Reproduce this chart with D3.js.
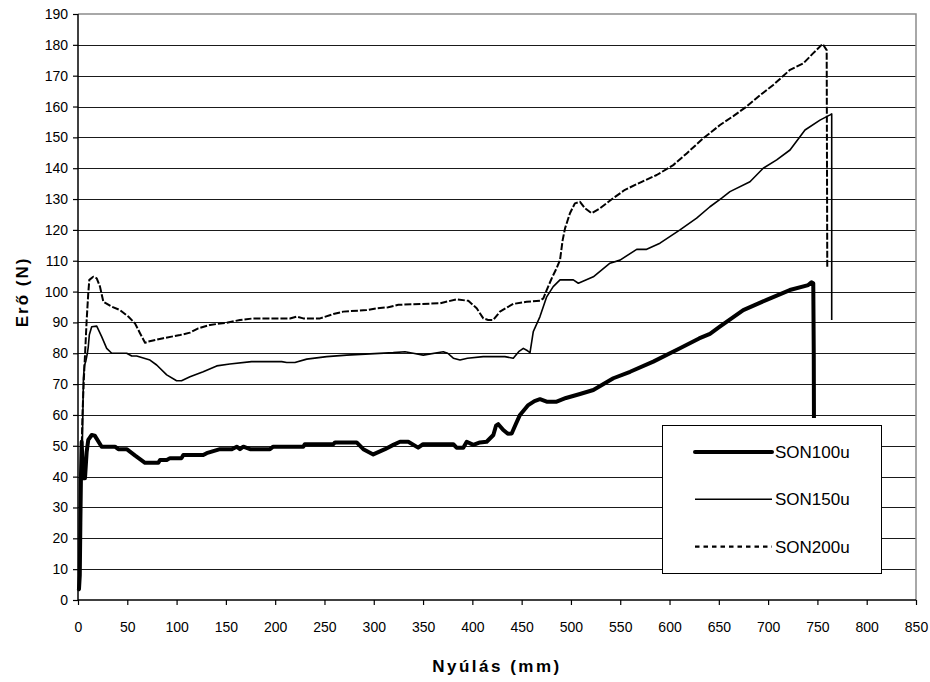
<!DOCTYPE html>
<html>
<head>
<meta charset="utf-8">
<script src="https://cdn.jsdelivr.net/npm/d3@7"></script>
<style>
  body { margin: 0; background: #fff; }
  svg text { font-family: "Liberation Sans", Arial, sans-serif; fill: #000; }
</style>
</head>
<body>
<svg id="chart" width="930" height="682"></svg>
<script>
// values: [elongation mm, force N]
const son100u = [[0.3,3.8],[1,3.5],[1.8,8],[2.4,25],[3,40],[3.7,51.3],[4.5,45],[5.5,39.5],[7.1,39.5],[8.8,48.1],[10.4,51.9],[13.9,53.5],[17,53.3],[24,49.7],[37.5,49.7],[40.9,48.9],[49.4,48.9],[58,46.8],[68,44.5],[81.5,44.5],[83.2,45.4],[90,45.4],[93.3,46],[105,46],[106.8,47],[127,47],[130.5,47.6],[144,48.9],[156,48.9],[161,49.7],[164.3,48.9],[167.7,49.7],[174.5,48.9],[194.7,48.9],[198,49.7],[228.5,49.7],[230,50.5],[259,50.5],[260.7,51.1],[282.6,51.1],[289.4,48.9],[299.5,47.2],[311.4,48.9],[319.8,50.3],[326.6,51.3],[335,51.3],[345,49.4],[350,50.5],[380.7,50.5],[384,49.4],[390.8,49.4],[394.3,51.3],[401,50.3],[407.7,51.1],[414.5,51.3],[421.3,53.5],[424,56.5],[426.3,57],[431.4,55.1],[436,53.9],[439.9,54],[444,57],[448.3,60],[456.7,63.2],[463,64.5],[468.6,65.1],[475.4,64.3],[485.5,64.3],[495,65.5],[509.2,66.8],[522.7,68.1],[543,71.9],[560,74],[583.5,77.3],[610.6,81.6],[630,84.8],[641,86.3],[651,88.6],[674.8,94],[698.5,97.3],[722,100.5],[740.7,102.1],[744,103],[745.8,102.7],[746.3,80],[746.5,59]];

const son150u = [[2.5,30],[3.5,45],[4.5,52],[5,62],[5.5,72],[6.5,76],[8,77.5],[9.5,80],[10.4,82],[11.5,86],[13.9,88.6],[19,88.8],[24,85.4],[29.1,81.6],[34.2,80],[49.4,80],[54.5,79.1],[59.5,79.1],[73,77.8],[79.8,76.2],[90,73],[100,71.1],[105,71.1],[113.6,72.4],[127,74],[140.7,75.9],[154,76.5],[176,77.3],[206.6,77.3],[211.7,77],[220,77],[232,78.1],[252.3,78.9],[272.5,79.4],[319.8,80.2],[331.7,80.5],[340,80],[350.2,79.4],[370.5,80.5],[375,80],[380.7,78.4],[387.5,77.8],[395,78.4],[411,78.9],[433,78.9],[441.5,78.4],[447,80.5],[451.7,81.6],[456,80.8],[458.5,80.2],[461.8,87],[468.6,91.9],[475.4,98.3],[482,101.6],[488.9,103.8],[502.4,103.8],[507.5,102.7],[522.7,104.8],[539.6,109.2],[549.8,110.2],[566.7,113.7],[576.8,113.7],[590.3,115.7],[610.6,120],[627.5,123.8],[641,127.5],[652.9,130.3],[661.3,132.4],[681.6,135.6],[695,140],[708.7,142.7],[722.2,145.9],[737.4,152.4],[752.6,155.6],[762.8,157.3],[764.5,157.6],[764.5,90.8]];

const son200u = [[3.5,45],[4.5,60],[6,72],[7.5,82],[8.8,90.8],[10.4,99.4],[11.5,103.8],[15.5,104.8],[19,104.3],[22.3,101.6],[25.7,96.7],[34.2,95.1],[42.6,94],[51,91.9],[57.8,89.7],[62.9,86.5],[68,83.4],[71.3,83.8],[86.5,84.9],[103.5,85.9],[113.6,86.7],[122,88.1],[133.9,89.2],[150.8,89.9],[164.3,90.8],[177.8,91.3],[215,91.3],[221.8,91.9],[228.5,91.3],[245.5,91.3],[259,92.7],[269,93.5],[292.8,94],[303,94.6],[314.7,94.9],[324.9,95.7],[367.2,96.2],[384,97.5],[395.9,97],[404.4,94.6],[411.1,91.3],[416,90.8],[421.2,90.8],[428,93.5],[441.5,96],[455,96.7],[468.6,97],[472,97.8],[475.4,100.5],[480.5,104.3],[485.5,107.6],[488.9,110.2],[491.6,116.7],[494,120.5],[499,125.4],[504,128.6],[509.2,129.1],[514.3,127],[521,125.4],[529.5,127],[543,130.3],[554.8,133],[571.8,135.6],[587,137.8],[603.8,141],[617.4,144.8],[634.2,149.7],[651.2,154],[664.7,156.9],[678.2,160],[692,163.7],[705.2,167],[722.2,171.9],[735.7,174],[745.8,177.3],[755.3,180.3],[759.4,178.3],[760,107.7]];

const seriesNames = ['SON100u', 'SON150u', 'SON200u'];
const xTicks = d3.range(0, 851, 50);
const yTicks = d3.range(0, 191, 10);

const svg = d3.select('#chart');
const plotLeft = 78, plotRight = 916, plotTop = 14, plotBottom = 600;

const x = d3.scaleLinear().domain([0, 850]).range([plotLeft, plotRight]);
const y = d3.scaleLinear().domain([0, 190]).range([plotBottom, plotTop]);

// gridlines
svg.append('g')
  .selectAll('line')
  .data(yTicks.filter(d => d > 0 && d < 190))
  .join('line')
  .attr('x1', plotLeft).attr('x2', plotRight)
  .attr('y1', d => Math.round(y(d)) + 0.5).attr('y2', d => Math.round(y(d)) + 0.5)
  .attr('stroke', '#1a1a1a').attr('stroke-width', 1);

// plot frame top/right (grey)
svg.append('path')
  .attr('d', `M${plotLeft},${plotTop}H${plotRight}V${plotBottom}`)
  .attr('fill', 'none').attr('stroke', '#8c8c8c').attr('stroke-width', 1.5);

// axes
let yAxis = svg.append('g')
  .attr('transform', `translate(${plotLeft},0)`)
  .call(d3.axisLeft(y).tickValues(yTicks).tickSize(5).tickPadding(5).tickFormat(d3.format('d')));
let xAxis = svg.append('g')
  .attr('transform', `translate(0,${plotBottom})`)
  .call(d3.axisBottom(x).tickValues(xTicks).tickSize(5).tickPadding(17).tickFormat(d3.format('d')));
[xAxis, yAxis].forEach(a => {
  a.select('.domain').attr('stroke', '#000').attr('stroke-width', 1.5);
  a.selectAll('.tick line').attr('stroke', '#000').attr('stroke-width', 1.2);
  a.selectAll('.tick text').attr('font-size', 14).attr('font-family', '"Liberation Sans", Arial, sans-serif').attr('fill', '#000');
});
xAxis.select('.domain').attr('d', `M${plotLeft},0H${plotRight}`);
yAxis.select('.domain').attr('d', `M0,${plotBottom}V${plotTop}`);

// series
const line = d3.line().x(d => x(d[0])).y(d => y(d[1]));
const styles = [
  { w: 4, dash: null },
  { w: 1.6, dash: null },
  { w: 2, dash: '7,2' }
];
[son100u, son150u, son200u].forEach((s, i) => {
  svg.append('path')
    .datum(s)
    .attr('d', line)
    .attr('fill', 'none')
    .attr('stroke', '#000')
    .attr('stroke-width', styles[i].w)
    .attr('stroke-linejoin', 'round')
    .attr('stroke-dasharray', styles[i].dash);
});

// legend
const lg = svg.append('g');
lg.append('rect')
  .attr('x', 662.5).attr('y', 425.5).attr('width', 219).attr('height', 148)
  .attr('fill', '#fff').attr('stroke', '#000').attr('stroke-width', 1);
seriesNames.forEach((name, i) => {
  const ly = 452 + i * 47.3;
  lg.append('line')
    .attr('x1', 695).attr('x2', 772).attr('y1', ly).attr('y2', ly)
    .attr('stroke', '#000')
    .attr('stroke-width', i === 0 ? 4 : i === 1 ? 1.6 : 2.2)
    .attr('stroke-linecap', i === 0 ? 'round' : 'butt')
    .attr('stroke-dasharray', i === 2 ? '4.5,4' : null);
  lg.append('text')
    .attr('x', 775).attr('y', ly + 6)
    .attr('font-size', 17)
    .text(name);
});

// axis titles
svg.append('text')
  .attr('x', 497).attr('y', 672)
  .attr('text-anchor', 'middle')
  .attr('font-size', 17).attr('font-weight', 'bold')
  .attr('letter-spacing', 2.5)
  .text('Nyúlás (mm)');
svg.append('text')
  .attr('transform', 'translate(28,292) rotate(-90)')
  .attr('text-anchor', 'middle')
  .attr('font-size', 17).attr('font-weight', 'bold')
  .attr('letter-spacing', 2)
  .text('Erő (N)');
</script>
</body>
</html>
